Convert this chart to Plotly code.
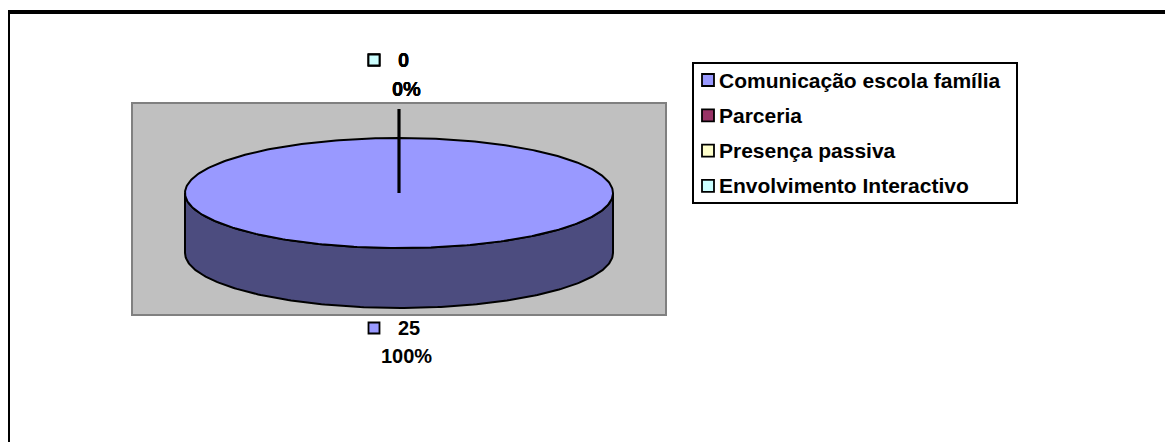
import numpy as np
import plotly.graph_objects as go

# ---------------- data ----------------
categories = ["Comunicação escola família", "Parceria", "Presença passiva", "Envolvimento Interactivo"]
values = [25, 0, 0, 0]
colors = ["#9999FF", "#993366", "#FFFFCC", "#CCFFFF"]

# ---------------- layout constants (page pixels) ----------------
W, H = 1173, 442
OFF = 8                    # default body margin of the html page
CX, CY = 399, 193          # centre of top face
RX, RY = 214, 55           # radii of top ellipse
DEPTH = 60                 # 3-D thickness
FONT = "Arial, Liberation Sans, sans-serif"


def darker(hexcol, f=0.5):
    h = hexcol.lstrip("#")
    r, g, b = (int(h[i:i + 2], 16) for i in (0, 2, 4))
    return "#%02X%02X%02X" % (int(r * f), int(g * f), int(b * f))


def pt(phi_deg, dy=0.0):
    p = np.radians(phi_deg)
    return CX + RX * np.sin(p), CY - RY * np.cos(p) + dy


fig = go.Figure()
shapes = []
annotations = []

# outer frame (extends past right/bottom edges)
shapes.append(dict(type="line", x0=8, y0=470, x1=8, y1=12, line=dict(color="black", width=4)))
shapes.append(dict(type="line", x0=6, y0=12, x1=1200, y1=12, line=dict(color="black", width=4)))
# plot area
shapes.append(dict(type="rect", x0=132, y0=103, x1=666, y1=315,
                   fillcolor="#C0C0C0", line=dict(color="#808080", width=2), layer="below"))

# slice angles (clockwise from 12 o'clock)
total = float(sum(values))
fracs = [v / total for v in values]
starts = np.concatenate([[0.0], np.cumsum(fracs)[:-1]]) * 360.0
ends = starts + np.array(fracs) * 360.0

# side walls (front half: 90..270 degrees)
for s, e, col in zip(starts, ends, colors):
    a, b = max(s, 90.0), min(e, 270.0)
    if b <= a:
        continue
    ph = np.linspace(a, b, 200)
    xt, yt = pt(ph)
    xb, yb = pt(ph[::-1], DEPTH)
    xs = np.concatenate([xt, xb, xt[:1]])
    ys = np.concatenate([yt, yb, yt[:1]])
    fig.add_trace(go.Scatter(x=xs, y=ys, mode="lines", fill="toself",
                             fillcolor=darker(col), line=dict(color="black", width=2),
                             hoverinfo="skip", showlegend=False))

# top faces
for s, e, col, f in zip(starts, ends, colors, fracs):
    if f <= 0:
        continue
    ph = np.linspace(s, e, 400)
    xt, yt = pt(ph)
    if f < 0.9999:
        xt = np.concatenate([[CX], xt, [CX]])
        yt = np.concatenate([[CY], yt, [CY]])
    fig.add_trace(go.Scatter(x=xt, y=yt, mode="lines", fill="toself",
                             fillcolor=col, line=dict(color="black", width=2),
                             hoverinfo="skip", showlegend=False))

# data labels
for v, f, s, e, col in zip(values, fracs, starts, ends, colors):
    mid = (s + e) / 2.0
    lx = CX + RX * np.sin(np.radians(mid))
    top = np.cos(np.radians(mid)) >= 0
    if top:
        edge = CY - RY * np.cos(np.radians(mid))
        y1, y2 = edge - 78, edge - 49
        if v == 0:
            fig.add_trace(go.Scatter(x=[CX, lx], y=[CY, edge - 29], mode="lines",
                                     line=dict(color="black", width=2.5),
                                     hoverinfo="skip", showlegend=False))
    else:
        edge = CY - RY * np.cos(np.radians(mid)) + DEPTH
        y1, y2 = edge + 20, edge + 48
    fig.add_trace(go.Scatter(x=[lx - 25], y=[y1], mode="markers",
                             marker=dict(symbol="square", size=11, color=col,
                                         line=dict(color="black", width=1.8)),
                             hoverinfo="skip", showlegend=False))
    annotations.append(dict(x=lx - 3, y=y1, text="<b>%d</b>" % v, showarrow=False,
                            xanchor="left", yanchor="middle",
                            font=dict(family=FONT, size=20, color="black")))
    annotations.append(dict(x=lx + 7, y=y2, text="<b>%d%%</b>" % round(f * 100), showarrow=False,
                            xanchor="center", yanchor="middle",
                            font=dict(family=FONT, size=20, color="black")))

# legend box
shapes.append(dict(type="rect", x0=693, y0=63, x1=1017, y1=203,
                   fillcolor="white", line=dict(color="black", width=2), layer="below"))
for i, (cat, col) in enumerate(zip(categories, colors)):
    yy = 80 + i * 35.3
    fig.add_trace(go.Scatter(x=[708], y=[yy], mode="markers",
                             marker=dict(symbol="square", size=12, color=col,
                                         line=dict(color="black", width=1.8)),
                             hoverinfo="skip", showlegend=False))
    annotations.append(dict(x=717, y=yy, text="<b>%s</b>" % cat, showarrow=False,
                            xanchor="left", yanchor="middle",
                            font=dict(family=FONT, size=21, color="black")))

fig.update_layout(
    width=W, height=H, autosize=False,
    margin=dict(l=0, r=0, t=0, b=0),
    paper_bgcolor="white", plot_bgcolor="white",
    shapes=shapes, annotations=annotations,
    xaxis=dict(range=[OFF, W + OFF], visible=False, fixedrange=True),
    yaxis=dict(range=[H + OFF, OFF], visible=False, fixedrange=True),
    showlegend=False,
)

fig.write_html("out.html")
